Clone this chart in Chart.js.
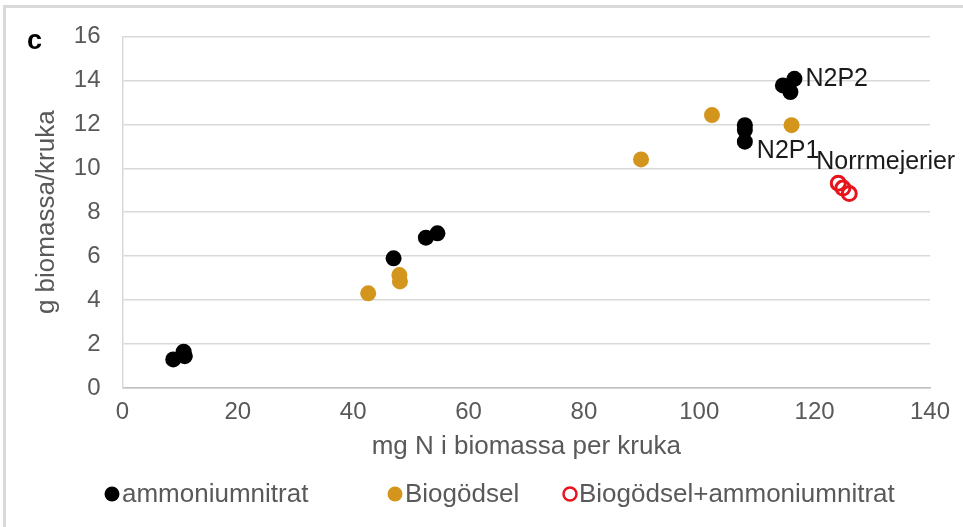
<!DOCTYPE html>
<html>
<head>
<meta charset="utf-8">
<script src="https://cdn.jsdelivr.net/npm/chart.js@4"></script>
<style>
  html, body { margin: 0; padding: 0; background: #fff; }
  #wrap { position: relative; width: 963px; height: 527px; overflow: hidden; }
  #frame { position: absolute; left: 3px; top: 5px; width: 980px; height: 540px; border: 3px solid #d9d9d9; box-sizing: border-box; }
  #panel { position: absolute; left: 27px; top: 25px; font: bold 27px "Liberation Sans", Arial, sans-serif; color: #000; }
  canvas { position: absolute; left: 0; top: 0; }
</style>
</head>
<body>
<div id="wrap">
  <div id="frame"></div>
  <canvas id="chart" width="963" height="527"></canvas>
  <div id="panel">c</div>
</div>
<script>
// values: x = mg N i biomassa per kruka, y = g biomassa/kruka
const ammonX = [8.8, 10.6, 10.8, 47.0, 52.6, 54.6, 107.9, 107.9, 107.9, 114.5, 115.8, 116.5];
const ammonY = [1.3, 1.65, 1.45, 5.9, 6.84, 7.04, 11.96, 11.74, 11.21, 13.77, 13.47, 14.07];
const ammonLabels = ['', '', '', '', '', '', '', '', 'N2P1', '', '', 'N2P2'];

const bioX = [42.6, 48.0, 48.1, 89.9, 102.2, 116.0];
const bioY = [4.31, 5.14, 4.85, 10.4, 12.42, 11.96];

const mixX = [124.1, 124.9, 126.0];
const mixY = [9.32, 9.10, 8.85];
const mixLabels = ['Norrmejerier', '', ''];

const seriesNames = ['ammoniumnitrat', 'Biogödsel', 'Biogödsel+ammoniumnitrat'];
const xTicks = [0, 20, 40, 60, 80, 100, 120, 140];
const yTicks = [0, 2, 4, 6, 8, 10, 12, 14, 16];

const FONT = '"Liberation Sans", Arial, sans-serif';
const GREY = '#595959';

const pts = (xs, ys) => xs.map((x, i) => ({ x, y: ys[i] }));

// text next to single points (Excel style data labels)
const labelOffsets = { 'N2P2': [11, 0], 'N2P1': [12, 9], 'Norrmejerier': [-22, -21] };
const pointLabels = {
  id: 'pointLabels',
  afterDatasetsDraw(chart) {
    const ctx = chart.ctx;
    ctx.save();
    ctx.font = '25px ' + FONT;
    ctx.fillStyle = '#1a1a1a';
    ctx.textAlign = 'left';
    ctx.textBaseline = 'middle';
    chart.data.datasets.forEach((ds, di) => {
      if (!ds.pointText) return;
      const meta = chart.getDatasetMeta(di);
      ds.pointText.forEach((t, i) => {
        if (!t) return;
        const p = meta.data[i];
        const off = labelOffsets[t] || [10, 0];
        ctx.fillText(t, p.x + off[0], p.y + off[1]);
      });
    });
    ctx.restore();
  }
};

// legend row under the axis title
const legendSpots = [[112, 122], [395, 405], [570, 579]];
const legendRow = {
  id: 'legendRow',
  afterDraw(chart) {
    const ctx = chart.ctx;
    const y = 494;
    ctx.save();
    ctx.font = '26px ' + FONT;
    ctx.textBaseline = 'middle';
    ctx.textAlign = 'left';
    chart.data.datasets.forEach((ds, i) => {
      const [mx, tx] = legendSpots[i];
      ctx.beginPath();
      if (ds.backgroundColor === 'transparent') {
        ctx.arc(mx, y, 6.5, 0, Math.PI * 2);
        ctx.lineWidth = 2.5;
        ctx.strokeStyle = ds.borderColor;
        ctx.stroke();
      } else {
        ctx.arc(mx, y, 7.5, 0, Math.PI * 2);
        ctx.fillStyle = ds.backgroundColor;
        ctx.fill();
      }
      ctx.fillStyle = GREY;
      ctx.fillText(ds.label, tx, y + 1);
    });
    ctx.restore();
  }
};

new Chart(document.getElementById('chart'), {
  type: 'scatter',
  data: {
    datasets: [
      {
        label: seriesNames[0],
        data: pts(ammonX, ammonY),
        pointText: ammonLabels,
        backgroundColor: '#000000',
        borderColor: '#000000',
        pointRadius: 8,
        borderWidth: 0
      },
      {
        label: seriesNames[1],
        data: pts(bioX, bioY),
        backgroundColor: '#d4951c',
        borderColor: '#d4951c',
        pointRadius: 8,
        borderWidth: 0
      },
      {
        label: seriesNames[2],
        data: pts(mixX, mixY),
        pointText: mixLabels,
        backgroundColor: 'transparent',
        borderColor: '#e8141c',
        pointRadius: 7,
        borderWidth: 3
      }
    ]
  },
  options: {
    responsive: false,
    animation: false,
    layout: { padding: { left: 0, top: 31, right: 33, bottom: 64 } },
    plugins: { legend: { display: false }, tooltip: { enabled: false } },
    scales: {
      x: {
        type: 'linear',
        min: 0,
        max: 140,
        afterBuildTicks: s => { s.ticks = xTicks.map(v => ({ value: v })); },
        afterFit: s => { s.height = 75; },
        grid: { display: false, drawTicks: false },
        border: { display: true, color: '#bfbfbf', width: 1.5 },
        ticks: { color: GREY, font: { family: FONT, size: 24 }, padding: 10, maxRotation: 0 },
        title: {
          display: true,
          text: 'mg N i biomassa per kruka',
          color: GREY,
          font: { family: FONT, size: 26 },
          padding: { top: 0, bottom: 1 }
        }
      },
      y: {
        type: 'linear',
        min: 0,
        max: 16,
        afterBuildTicks: s => { s.ticks = yTicks.map(v => ({ value: v })); },
        afterFit: s => { s.width = 122.5; },
        grid: { color: '#d9d9d9', lineWidth: 1.5, drawTicks: false },
        border: { display: true, color: '#d9d9d9', width: 1.5 },
        ticks: { color: GREY, font: { family: FONT, size: 24 }, padding: 22 },
        title: {
          display: true,
          text: 'g biomassa/kruka',
          color: GREY,
          font: { family: FONT, size: 26 },
          padding: { top: 31, bottom: 0 }
        }
      }
    }
  },
  plugins: [pointLabels, legendRow]
});
</script>
</body>
</html>
